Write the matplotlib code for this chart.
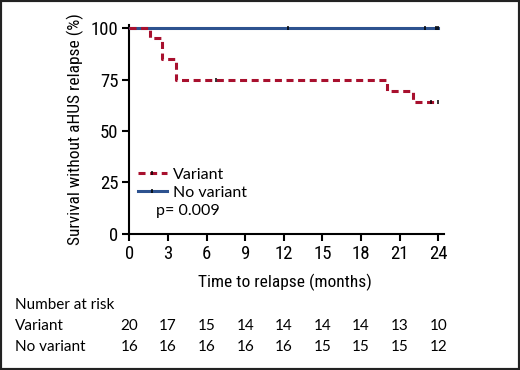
import numpy as np
import matplotlib
matplotlib.use("Agg")
import matplotlib.pyplot as plt
from matplotlib.transforms import blended_transform_factory
from matplotlib.lines import Line2D
from matplotlib.patches import Rectangle

# Kaplan-Meier steps
variant_t = [0, 1.6, 2.55, 3.65, 20.0, 22.05, 24.0]
variant_s = [100, 95, 85, 75, 69.6, 64.3, 64.3]
variant_cens_t = [6.7, 23.4, 24.0]
variant_cens_s = [75, 64.3, 64.3]

novar_t = [0, 24.0]
novar_s = [100, 100]
novar_cens_t = [12.35, 23.0, 23.85, 24.0]
novar_cens_s = [100, 100, 100, 100]

ticks_x = [0, 3, 6, 9, 12, 15, 18, 21, 24]
ticks_y = [0, 25, 50, 75, 100]
risk_variant = [20, 17, 15, 14, 14, 14, 14, 13, 10]
risk_novar = [16, 16, 16, 16, 16, 15, 15, 15, 12]

red = "#a8102e"
blue = "#2d528f"
axfont = ["Roboto Condensed", "Liberation Sans Narrow", "Roboto", "DejaVu Sans"]
tabfont = ["Lato", "DejaVu Sans"]

fig = plt.figure(figsize=(5.2, 3.7), dpi=100)
ax = fig.add_axes([0.249, 0.3676, 0.605, 0.565])

ax.step(novar_t, novar_s, where="post", color=blue, lw=2.2, zorder=3)
ax.step(variant_t, variant_s, where="post", color=red, lw=2.2,
        dashes=(2.3, 1.5), zorder=4)
ax.plot(variant_cens_t, variant_cens_s, ls="none", marker="|", ms=3.5,
        mew=1.1, color="black", zorder=5)
ax.plot(novar_cens_t, novar_cens_s, ls="none", marker="|", ms=3.5,
        mew=1.1, color="black", zorder=5)

ax.set_xlim(0, 24.45)
ax.set_ylim(0, 101.5)
ax.set_xticks(ticks_x)
ax.set_yticks(ticks_y)
for s in ["top", "right"]:
    ax.spines[s].set_visible(False)
for s in ["left", "bottom"]:
    ax.spines[s].set_linewidth(1.5)
    ax.spines[s].set_clip_on(False)
ax.tick_params(width=1.5, length=5, labelsize=13.5, pad=3)
for lab in ax.get_xticklabels() + ax.get_yticklabels():
    lab.set_family(axfont)
    lab.set_stretch("condensed")

ax.set_ylabel("Survival without aHUS relapse (%)", fontsize=12.5,
              family=axfont, stretch="condensed", labelpad=5)

handles = [
    Line2D([], [], color=red, lw=2.2, dashes=(2.3, 1.5), marker="|",
           ms=3.5, mec="black", mew=1.1),
    Line2D([], [], color=blue, lw=2.2, marker="|", ms=3.5, mec="black",
           mew=1.1),
]
leg = ax.legend(handles, ["Variant", "No variant"], loc="upper left",
                bbox_to_anchor=(-0.01, 0.372), frameon=False,
                handlelength=1.85, handletextpad=0.35, labelspacing=0.25,
                borderaxespad=0.3, prop={"family": tabfont, "size": 11.5})
ax.text(0.085, 0.108, "p= 0.009", transform=ax.transAxes, fontsize=11.5,
        family=tabfont, va="center")

fig.text(0.547, 0.236, "Time to relapse (months)", ha="center", va="center",
         fontsize=12.5, family=axfont, stretch="condensed")

tr = blended_transform_factory(ax.transData, fig.transFigure)
fig.text(0.029, 0.176, "Number at risk", va="center", fontsize=11,
         family=tabfont)
fig.text(0.029, 0.119, "Variant", va="center", fontsize=11, family=tabfont)
fig.text(0.029, 0.062, "No variant", va="center", fontsize=11,
         family=tabfont)
for x, a, b in zip(ticks_x, risk_variant, risk_novar):
    ax.text(x, 0.119, str(a), transform=tr, ha="center", va="center",
            fontsize=11, family=tabfont)
    ax.text(x, 0.062, str(b), transform=tr, ha="center", va="center",
            fontsize=11, family=tabfont)

fig.patches.append(Rectangle((0, 0), 1, 1, transform=fig.transFigure,
                             fill=False, ec="#222222", lw=3))

fig.savefig("out.png", dpi=100)
